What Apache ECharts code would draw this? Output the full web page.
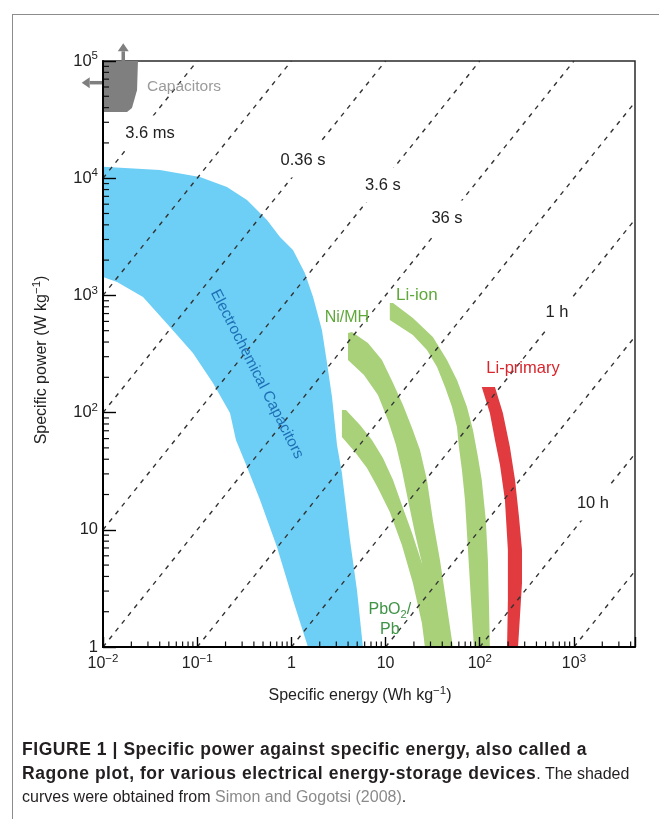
<!DOCTYPE html>
<html>
<head>
<meta charset="utf-8">
<script src="https://cdn.jsdelivr.net/npm/echarts@6/dist/echarts.min.js"></script>
<style>
  html, body { margin: 0; padding: 0; background: #fff; }
  #wrap { position: relative; width: 659px; height: 819px; overflow: hidden; }
  #frame { position: absolute; left: 12px; top: 14px; width: 700px; height: 900px;
           border-left: 1px solid #8c8c8c; border-top: 1px solid #8c8c8c; }
  #chart { position: absolute; left: 0; top: 0; width: 659px; height: 819px; }
  #caption { position: absolute; left: 22px; top: 738px; white-space: nowrap;
             font-family: 'Liberation Sans', Arial, sans-serif; font-size: 16px;
             line-height: 23.5px; color: #231f20; }
  #caption b { font-weight: bold; font-size: 17.5px; letter-spacing: 0.55px; }
  #caption .ref { color: #8a8a8a; }
</style>
</head>
<body>
<div id="wrap">
  <div id="frame"></div>
  <div id="chart"></div>
  <div id="caption">
    <b>FIGURE 1 | Specific power against specific energy, also called a</b><br>
    <b>Ragone plot, for various electrical energy-storage devices</b>. The shaded<br>
    curves were obtained from <span class="ref">Simon and Gogotsi (2008)</span>.
  </div>
</div>
<script>
const FONT = "'Liberation Sans', Arial, sans-serif";

// axes (log scales)
const xMin = 0.01, xMax = 4450;
const yMin = 1, yMax = 100000;
const xTickVals = [0.01, 0.1, 1, 10, 100, 1000];
const xTickText = ['10{s|−2}', '10{s|−1}', '1', '10', '10{s|2}', '10{s|3}'];
const yTickVals = [1, 10, 100, 1000, 10000, 100000];
const yTickText = ['1', '10', '10{s|2}', '10{s|3}', '10{s|4}', '10{s|5}'];
const minorSteps = [2, 3, 4, 5, 6, 7, 8, 9];

// constant time lines (E, P) where they meet the frame
const timeLines = [
  [[0.01, 10000], [0.1, 100000]],
  [[0.01, 1000], [1, 100000]],
  [[0.01, 100], [10, 100000]],
  [[0.01, 10], [100, 100000]],
  [[0.01, 1], [1000, 100000]],
  [[0.1, 1], [4450, 44500]],
  [[1, 1], [4450, 4450]],
  [[10, 1], [4450, 445]],
  [[100, 1], [4450, 44.5]],
  [[1000, 1], [4450, 4.45]]
];
const timeLabels = ['3.6 ms', '0.36 s', '3.6 s', '36 s', '1 h', '10 h'];
const timeLabelAt = [[0.0316, 24300], [1.33, 14300], [9.38, 8750], [44.9, 4570], [661, 722], [1592, 16.9]];

// shaded regions, outline points (Wh/kg, W/kg)
const capacitors = [[0.01, 100000], [0.0235, 100000], [0.023, 56600], [0.0203, 39700], [0.018, 36700], [0.01, 36700]];
const capArrowUp = [[0.0164, 100000], [0.0164, 141600]];
const capArrowLeft = [[0.01, 65300], [0.00594, 65300]];
const elecCaps = [
  [0.01, 12500], [0.0403, 11750], [0.107, 10230], [0.207, 8410], [0.338, 6520], [0.551, 4400],
  [0.757, 3150], [1.04, 2440], [1.39, 1550], [1.70, 970], [2.11, 507], [2.39, 265], [2.70, 136],
  [3.05, 53], [3.44, 30.5], [4.19, 8.2], [4.97, 3.07], [5.75, 1], [1.50, 1], [1.04, 2.52],
  [0.703, 7.13], [0.465, 18.0], [0.338, 34.3], [0.258, 58.4], [0.223, 99], [0.147, 179],
  [0.0901, 323], [0.0514, 537], [0.0266, 970], [0.0141, 1300], [0.01, 1436]
];
const niMH = [
  [3.99, 478], [4.40, 487], [6.50, 393], [9.16, 281], [12.0, 179], [15.3, 116], [19.1, 73.9],
  [23.2, 48.0], [27.5, 26.6], [31.8, 12.1], [37.8, 5.52], [43.8, 2.52], [51.9, 1], [26.2, 1],
  [25.6, 2.52], [24.3, 5.21], [20.5, 9.39], [17.3, 18.0], [14.9, 32.4], [12.9, 52.9],
  [10.6, 86.5], [8.30, 141], [5.90, 209], [3.99, 281]
];
const pbO2 = [
  [3.44, 105], [3.80, 105], [5.35, 78.4], [7.17, 58.4], [9.38, 41.0], [12.0, 26.6], [14.9, 16.3],
  [19.1, 9.39], [24.3, 5.21], [29.6, 2.52], [36.0, 1], [26.2, 1], [24.3, 1.60], [19.5, 3.52],
  [14.9, 7.42], [11.1, 14.2], [8.30, 22.7], [6.35, 33.7], [4.73, 46.1], [3.44, 61.9]
];
const liIon = [
  [11.1, 861], [12.0, 861], [19.5, 641], [31.8, 442], [44.9, 281], [57.3, 190], [73.1, 112],
  [84.7, 71.1], [95.7, 41.8], [105, 26.6], [116, 12.1], [122, 5.52], [125, 2.52], [128, 1],
  [86.7, 1], [80.7, 2.52], [75.0, 6.72], [69.7, 18.0], [64.7, 32.4], [60.1, 50.9], [57.3, 75.4],
  [50.7, 112], [42.8, 165], [35.2, 245], [27.5, 342], [19.5, 459], [11.1, 617]
];
const liPrimary = [
  [105, 165], [145, 165], [176, 99.3], [209, 50.9], [237, 26.6], [261, 12.9], [281, 6.72],
  [281, 3.52], [267, 1.80], [255, 1], [195, 1], [199, 2.52], [199, 6.72], [185, 18.0],
  [164, 35.7], [145, 58.4], [128, 99.3]
];

// device labels
const deviceLabels = ['Capacitors', 'Electrochemical Capacitors', 'Ni/MH', 'Li-ion', 'Li-primary', '{n|PbO}{sub|2}{n|/}\n{n|Pb}'];
const deviceLabelAt = [[0.0293, 60000], [0.432, 213], [3.89, 641], [21.5, 1008], [288, 240], [11.1, 1.70]];

const COL = {
  grey: '#7f7f7f', greyText: '#9b9b9b',
  blue: '#6dcff6', blueText: '#1f6fb5',
  green: '#a8d17a', greenText: '#5fa83a', pbText: '#3f9446',
  red: '#e13b40', redText: '#d9262c'
};
const deviceStyle = [
  { fill: COL.greyText, size: 15.5, align: 'left' },
  { fill: COL.blueText, size: 15.5, align: 'center', rot: -63 },
  { fill: COL.greenText, size: 16, align: 'center' },
  { fill: COL.greenText, size: 17, align: 'center' },
  { fill: COL.redText, size: 16.5, align: 'center' },
  { fill: COL.pbText, size: 16, align: 'center' }
];

function region(pts, color) {
  return {
    type: 'custom', coordinateSystem: 'cartesian2d', silent: true, clip: true, z: 2,
    data: pts,
    renderItem: (params, api) => {
      if (params.dataIndex !== 0) return;
      return { type: 'polygon', shape: { points: pts.map(p => api.coord(p)) }, style: { fill: color } };
    }
  };
}

function arrow(pts) {
  return {
    type: 'custom', coordinateSystem: 'cartesian2d', silent: true, clip: false, z: 2,
    data: pts,
    renderItem: (params, api) => {
      if (params.dataIndex !== 0) return;
      const a = api.coord(pts[0]), b = api.coord(pts[1]);
      const dx = b[0] - a[0], dy = b[1] - a[1];
      const len = Math.sqrt(dx * dx + dy * dy), ux = dx / len, uy = dy / len;
      const hx = b[0] - ux * 8, hy = b[1] - uy * 8;
      return {
        type: 'group', children: [
          { type: 'line', shape: { x1: a[0], y1: a[1], x2: hx, y2: hy }, style: { stroke: COL.grey, lineWidth: 3.5 } },
          { type: 'polygon', shape: { points: [[b[0], b[1]], [hx - uy * 5.5, hy + ux * 5.5], [hx + uy * 5.5, hy - ux * 5.5]] }, style: { fill: COL.grey } }
        ]
      };
    }
  };
}

const series = [
  region(capacitors, COL.grey),
  region(elecCaps, COL.blue),
  region(pbO2, COL.green),
  region(niMH, COL.green),
  region(liIon, COL.green),
  region(liPrimary, COL.red),
  arrow(capArrowUp),
  arrow(capArrowLeft)
];

timeLines.forEach(seg => series.push({
  type: 'line', data: seg, showSymbol: false, silent: true, z: 3,
  lineStyle: { color: '#333', width: 1.4, type: [4.5, 5.5] }
}));

series.push({
  type: 'custom', coordinateSystem: 'cartesian2d', silent: true, clip: false, z: 5,
  data: timeLabelAt,
  renderItem: (params, api) => {
    const p = api.coord(timeLabelAt[params.dataIndex]);
    return {
      type: 'text', x: p[0], y: p[1],
      style: {
        text: timeLabels[params.dataIndex], font: '16.5px ' + FONT, fill: '#222',
        align: 'center', verticalAlign: 'middle', backgroundColor: '#fff', padding: [9, 3]
      }
    };
  }
});

series.push({
  type: 'custom', coordinateSystem: 'cartesian2d', silent: true, clip: false, z: 6,
  data: deviceLabelAt,
  renderItem: (params, api) => {
    const i = params.dataIndex;
    const p = api.coord(deviceLabelAt[i]);
    const st = deviceStyle[i];
    return {
      type: 'text', x: p[0], y: p[1], rotation: (st.rot || 0) * Math.PI / 180,
      style: {
        text: deviceLabels[i], font: st.size + 'px ' + FONT, fill: st.fill,
        align: st.align, verticalAlign: 'middle', lineHeight: 20,
        rich: {
          n: { fontSize: st.size, fontFamily: FONT, fill: st.fill, lineHeight: 20 },
          sub: { fontSize: 11, fontFamily: FONT, fill: st.fill, verticalAlign: 'bottom', lineHeight: 14 }
        }
      }
    };
  }
});

// minor ticks of the log axes
series.push({
  type: 'custom', coordinateSystem: 'cartesian2d', silent: true, clip: false, z: 8,
  data: [[xMin, yMin]],
  renderItem: (params, api) => {
    const children = [];
    xTickVals.forEach(d => minorSteps.forEach(m => {
      if (d * m > xMax) return;
      const p = api.coord([d * m, yMin]);
      children.push({ type: 'line', shape: { x1: p[0], y1: p[1], x2: p[0], y2: p[1] - 5.5 }, style: { stroke: '#111', lineWidth: 1.2 } });
    }));
    yTickVals.forEach(d => minorSteps.forEach(m => {
      if (d * m > yMax) return;
      const p = api.coord([xMin, d * m]);
      children.push({ type: 'line', shape: { x1: p[0], y1: p[1], x2: p[0] + 6, y2: p[1] }, style: { stroke: '#111', lineWidth: 1.2 } });
    }));
    return { type: 'group', children };
  }
});

function tickLabel(vals, texts) {
  return v => {
    const i = vals.findIndex(t => Math.abs(Math.log10(t) - Math.log10(v)) < 1e-6);
    return i < 0 ? '' : texts[i];
  };
}

const supStyle = { s: { fontFamily: FONT, fontSize: 11.5, color: '#222', verticalAlign: 'top', lineHeight: 12 } };

const chart = echarts.init(document.getElementById('chart'), null, { renderer: 'canvas' });
chart.setOption({
  animation: false,
  grid: {
    left: 103, right: 24, top: 61, bottom: 172, show: true,
    borderColor: '#2a2a2a', borderWidth: 1.5, backgroundColor: 'transparent',
    containLabel: false, outerBoundsMode: 'none'
  },
  xAxis: {
    type: 'log', logBase: 10, min: xMin, max: xMax, z: 9,
    name: 'Specific energy (Wh kg{s|−1})', nameLocation: 'middle', nameGap: 38,
    nameTextStyle: { fontFamily: FONT, fontSize: 16, color: '#222', padding: [0, 18, 0, 0], lineHeight: 22, rich: supStyle },
    axisLine: { lineStyle: { color: '#000', width: 2 } },
    axisTick: { inside: true, length: 10, lineStyle: { color: '#000', width: 1.4 } },
    splitLine: { show: false },
    axisLabel: {
      formatter: tickLabel(xTickVals, xTickText), margin: 6,
      fontFamily: FONT, fontSize: 16, color: '#222', lineHeight: 22, hideOverlap: false, rich: supStyle
    }
  },
  yAxis: {
    type: 'log', logBase: 10, min: yMin, max: yMax, z: 9,
    name: 'Specific power (W kg{s|−1})', nameLocation: 'middle', nameGap: 50, nameRotate: 90,
    nameTextStyle: { fontFamily: FONT, fontSize: 16, color: '#222', padding: [0, 12, 0, 0], lineHeight: 22, rich: supStyle },
    axisLine: { lineStyle: { color: '#000', width: 2 } },
    axisTick: { inside: true, length: 13, lineStyle: { color: '#000', width: 1.4 } },
    splitLine: { show: false },
    axisLabel: {
      formatter: tickLabel(yTickVals, yTickText), margin: 5,
      fontFamily: FONT, fontSize: 16.5, color: '#222', lineHeight: 22, hideOverlap: false, rich: supStyle
    }
  },
  series: series
});
</script>
</body>
</html>
